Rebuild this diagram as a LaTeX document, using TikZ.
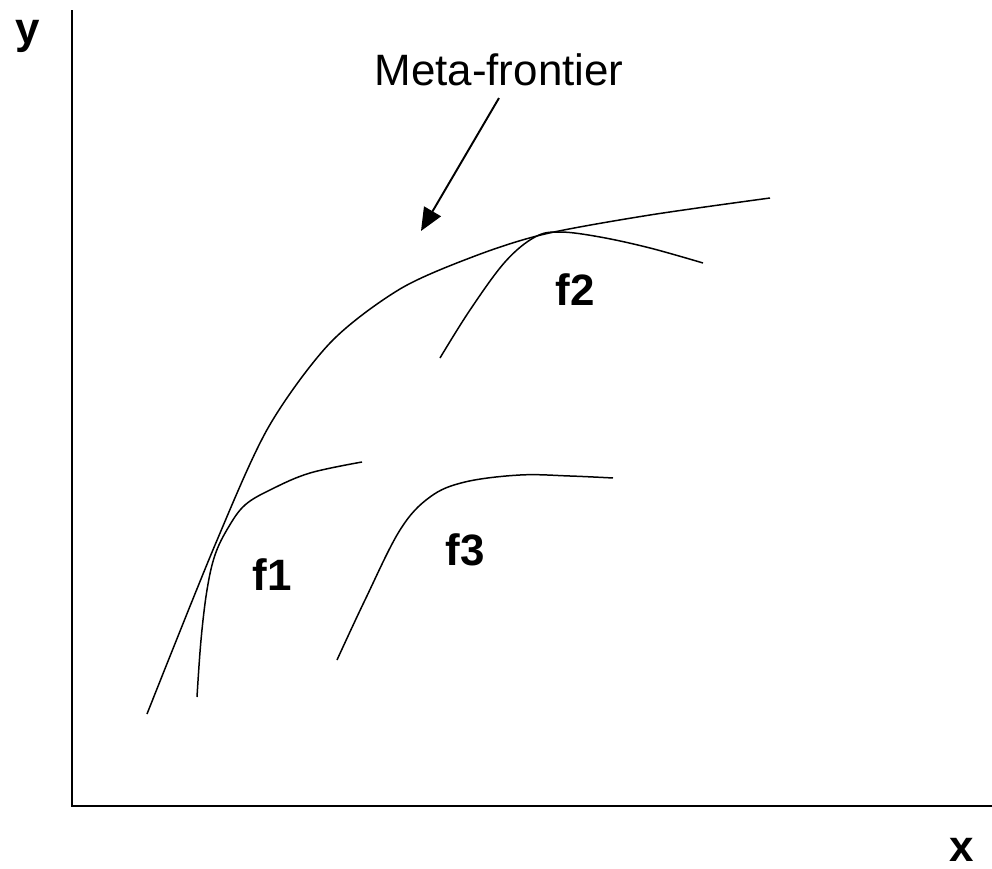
\documentclass[tikz,border=0pt]{standalone}
\usepackage{fontspec}
\setmainfont{Liberation Sans}
\usetikzlibrary{arrows.meta}

\begin{document}
\begin{tikzpicture}[
  x=0.02cm, y=-0.02cm,
  axis/.style={line width=1.2pt},
  curve/.style={line width=0.85pt, line join=round},
  arr/.style={-{Triangle[length=13pt, width=11pt]}, line width=1.1pt},
  lbl/.style={font=\fontsize{25}{29}\selectfont, inner sep=0pt},
  fname/.style={font=\fontsize{25}{29}\selectfont\bfseries, inner sep=0pt}
]
\useasboundingbox (0,0) rectangle (992,869);

% axes
\coordinate (origin) at (72,806);
\coordinate (ytop)   at (72,10);
\coordinate (xend)   at (992,806);
\draw[axis] (ytop) -- (origin) -- (xend);
\node[fname] (ylab) at (28,36)  {y};
\node[fname] (xlab) at (962,850) {x};

% meta-frontier
\draw[curve] plot[smooth, tension=0.5] coordinates {
  (147,714) (215,545) (268,428) (330,343) (400,289) (475,256)
  (545,234) (650,215) (770,198)};

% group frontiers
\draw[curve] plot[smooth, tension=0.6] coordinates {
  (197,697) (201,640) (207,590) (215,555) (228,528) (245,505)
  (272,489) (310,473) (362,462)};
\draw[curve] plot[smooth, tension=0.6] coordinates {
  (440,358) (470,310) (505,262) (535,237) (560,232) (600,237)
  (650,248) (703,263)};
\draw[curve] plot[smooth, tension=0.6] coordinates {
  (337,660) (365,600) (400,530) (430,497) (465,482) (520,475)
  (570,476) (613,478)};

% labels
\node[lbl]   (meta) at (499,70)  {Meta-frontier};
\node[fname] (f1)   at (272,575) {f1};
\node[fname] (f2)   at (575,290) {f2};
\node[fname] (f3)   at (465,550) {f3};

\coordinate (mstart) at (499,98);
\coordinate (mtip)   at (421,231);
\draw[arr] (mstart) -- (mtip);

\end{tikzpicture}
\end{document}
